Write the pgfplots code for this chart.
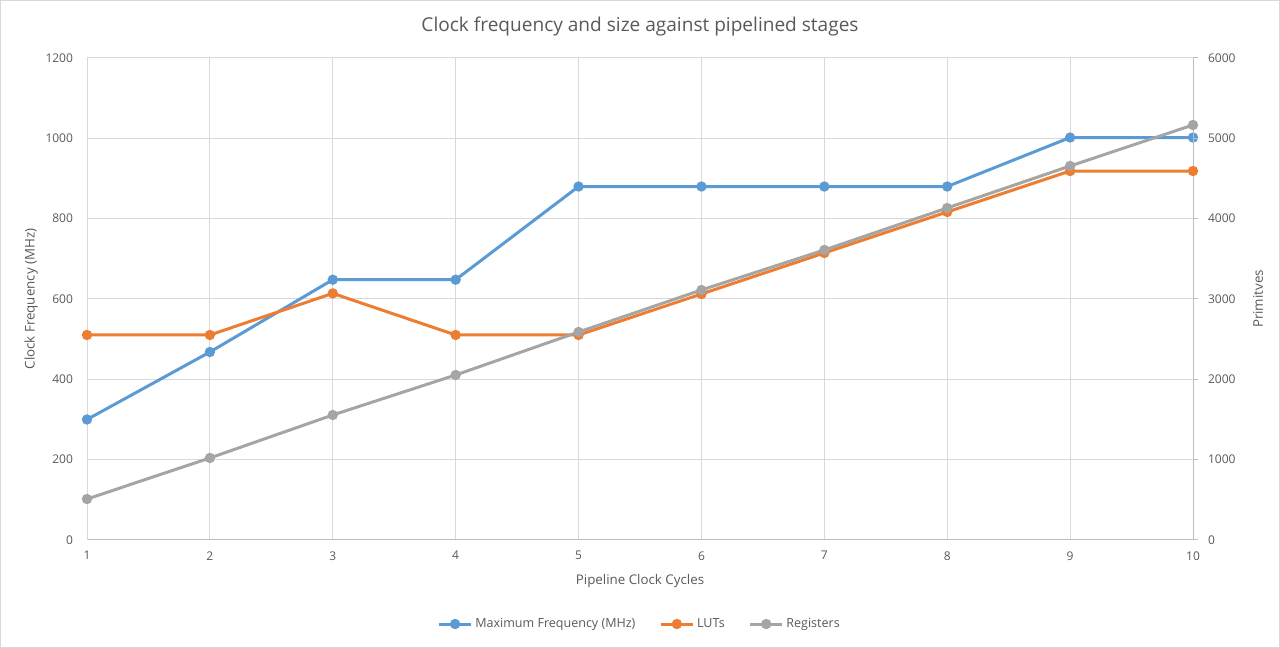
\documentclass[border=0pt]{standalone}
\usepackage{fontspec}
\setmainfont{Open Sans}
\usepackage{pgfplots}
\pgfplotsset{compat=1.18}
\definecolor{cblue}{HTML}{5B9BD5}
\definecolor{corange}{HTML}{ED7D31}
\definecolor{cgray}{HTML}{A5A5A5}
\definecolor{gridc}{HTML}{D9D9D9}
\definecolor{axisc}{HTML}{BFBFBF}
\definecolor{textc}{HTML}{595959}
\pgfplotsset{
  common/.style={
    at={(65.25pt,81pt)}, anchor=south west, scale only axis,
    width=829.5pt, height=361.5pt,
    xmin=1, xmax=10,
    /pgf/number format/assume math mode=true,
    /pgf/number format/1000 sep={},
    tick label style={font=\fontsize{9}{11}\selectfont, text=textc},
    label style={font=\fontsize{10}{12}\selectfont, text=textc},
  },
  ser/.style={color=#1, line width=2.25pt, mark=*, mark size=2.7pt, mark options={solid, fill=#1, draw=#1}},
  legend image code/.code={\draw[mark repeat=2,mark phase=2,#1] plot coordinates {(0pt,0pt)(12pt,0pt)(24pt,0pt)};},
}
\begin{document}
\begin{tikzpicture}
\useasboundingbox (0,0) rectangle (960pt,486pt);
\draw[color=gridc, line width=0.75pt] (0.375pt,0.375pt) rectangle (959.625pt,485.625pt);
\node[anchor=center, font=\fontsize{14.3}{16}\selectfont, text=textc] at (480pt,465.75pt) {Clock frequency and size against pipelined stages};
\begin{axis}[common,
  ymin=0, ymax=1200, ytick={0,200,...,1200}, xtick={1,...,10},
  axis x line*=bottom, axis y line*=left,
  x axis line style={color=axisc, line width=0.75pt, -},
  y axis line style={color=gridc, line width=0.75pt, -},
  major tick length=0pt,
  grid=major, grid style={color=gridc, line width=0.75pt},
  yticklabel style={xshift=-7pt},
  xticklabel style={yshift=-5pt},
  ylabel={Clock Frequency (MHz)},
  ylabel style={at={(axis description cs:-0.0506,0.5)}, anchor=center},
  xlabel={Pipeline Clock Cycles},
  xlabel style={at={(axis description cs:0.5,-0.085)}, anchor=center},
]
\addplot[ser=cblue] coordinates {(1,300) (2,468) (3,648) (4,648) (5,880) (6,880) (7,880) (8,880) (9,1002) (10,1002)};
\end{axis}
\begin{axis}[common,
  ymin=0, ymax=6000, ytick={0,1000,...,6000},
  axis y line*=right, axis x line=none,
  y axis line style={color=axisc, line width=0.75pt, -},
  ytick style={color=axisc, line width=0.75pt},
  tick align=outside, major tick length=3.75pt,
  yticklabel style={xshift=4pt},
  ylabel={Primitves},
  ylabel style={at={(axis description cs:1.0588,0.5)}, anchor=center, rotate=0},
  legend columns=3,
  legend style={at={(axis description cs:0.5,-0.1743)}, anchor=center, draw=none, fill=none,
    font=\fontsize{9.4}{11}\selectfont, text=textc,
    /tikz/every even column/.append style={column sep=16pt}},
  legend cell align=left,
]
\addlegendimage{ser=cblue}
\addlegendentry{Maximum Frequency (MHz)}
\addplot[ser=corange] coordinates {(1,2552) (2,2552) (3,3070) (4,2552) (5,2552) (6,3062) (7,3573) (8,4083) (9,4593) (10,4593)};
\addlegendentry{LUTs}
\addplot[ser=cgray] coordinates {(1,510) (2,1021) (3,1556) (4,2054) (5,2589) (6,3112) (7,3610) (8,4133) (9,4656) (10,5166)};
\addlegendentry{Registers}
\end{axis}
\end{tikzpicture}
\end{document}
